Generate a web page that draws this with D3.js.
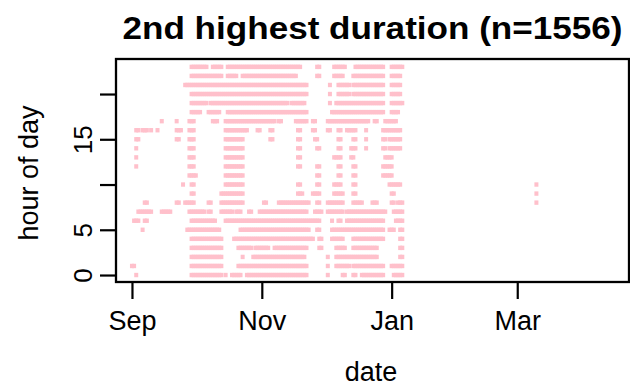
<!DOCTYPE html>
<html>
<head>
<meta charset="utf-8">
<script src="https://cdn.jsdelivr.net/npm/d3@7"></script>
<style>
  html, body { margin: 0; padding: 0; background: #fff; }
  svg { display: block; font-family: "Liberation Sans", Arial, Helvetica, sans-serif; }
</style>
</head>
<body>
<svg id="chart" width="630" height="389"></svg>
<script>
// ---- data -------------------------------------------------------------
const titleText = "2nd highest duration (n=1556)";
const xLabel = "date";
const yLabel = "hour of day";
const seasonStart = "2006-09-01";
const dateDomain = ["2006-08-24T12:00", "2007-04-22T12:00"];
const monthTicks = ["2006-09-01", "2006-11-01", "2007-01-01", "2007-03-01"];
const hourTicks = [0, 5, 10, 15, 20];
const hourTickLabels = ["0", "5", "", "15", ""];

// Days with a recorded event for each hour, as [first, last] runs of
// day numbers counted from seasonStart.
const h00 = [[2,2],[28,42],[44,44],[47,51],[54,82],[92,92],[99,100],[104,105],[108,118],[123,127]];
const h01 = [[0,1],[28,42],[50,82],[92,92],[96,102],[104,118],[122,127]];
const h02 = [[28,42],[52,52],[57,81],[92,92],[96,115],[126,127]];
const h03 = [[28,42],[50,56],[58,64],[67,82],[88,89],[96,100],[104,115],[126,127]];
const h04 = [[28,42],[48,85],[88,89],[94,99],[104,118],[126,127]];
const h05 = [[5,5],[26,41],[51,83],[87,88],[94,118],[121,123],[126,127]];
const h06 = [[1,3],[6,7],[28,39],[44,88],[94,94],[97,98],[101,118],[124,127]];
const h07 = [[3,9],[14,18],[27,34],[36,37],[42,47],[49,51],[55,56],[60,82],[86,89],[92,99],[101,119],[123,127]];
const h08 = [[6,7],[21,22],[25,29],[36,37],[42,52],[62,63],[69,83],[87,88],[92,99],[104,108],[113,115],[122,123],[125,127],[190,190]];
const h09 = [[28,29],[42,52],[78,80],[85,88],[95,99],[104,105],[122,123],[190,190]];
const h10 = [[24,24],[28,29],[44,52],[78,79],[87,88],[95,98],[104,105],[121,126],[190,190]];
const h11 = [[27,30],[44,52],[87,88],[97,98],[104,105],[118,122]];
const h12 = [[2,2],[27,29],[44,52],[78,79],[87,88],[97,98],[104,105],[118,122]];
const h13 = [[2,2],[27,29],[44,52],[78,79],[95,98],[103,104],[119,122]];
const h14 = [[2,2],[27,29],[44,52],[78,79],[87,88],[97,98],[103,105],[110,110],[118,119],[121,126]];
const h15 = [[2,3],[21,22],[27,29],[44,52],[65,66],[78,79],[86,87],[97,98],[104,105],[110,110],[118,119],[121,126]];
const h16 = [[2,3],[5,7],[9,9],[12,12],[21,23],[27,29],[44,54],[59,60],[65,66],[78,79],[85,86],[92,93],[97,98],[101,105],[110,110],[118,126]];
const h17 = [[14,14],[21,21],[27,29],[38,40],[44,67],[69,70],[77,82],[85,86],[92,111],[114,115],[119,124]];
const h18 = [[28,32],[36,41],[45,82],[94,118],[122,125]];
const h19 = [[28,35],[37,73],[75,81],[93,93],[96,118],[122,127]];
const h20 = [[28,82],[93,93],[97,102],[104,118],[122,126]];
const h21 = [[25,82],[93,93],[97,102],[104,118],[122,126]];
const h22 = [[28,42],[45,49],[52,77],[87,88],[95,99],[104,118],[122,126]];
const h23 = [[28,35],[38,42],[45,79],[87,88],[95,100],[105,118],[122,127]];
const runsByHour = [h00,h01,h02,h03,h04,h05,h06,h07,h08,h09,h10,h11,
                    h12,h13,h14,h15,h16,h17,h18,h19,h20,h21,h22,h23];

// ---- expand runs into one record per (day, hour) -------------------------
const start = d3.timeParse("%Y-%m-%d")(seasonStart);
const points = [];
runsByHour.forEach((runs, hour) => {
  runs.forEach(([a, b]) => {
    for (let d = a; d <= b; d++) {
      points.push({ date: d3.timeDay.offset(start, d), hour });
    }
  });
});

// ---- layout -----------------------------------------------------------
const plot = { left: 116, right: 629, top: 59, bottom: 282 };
const svg = d3.select("#chart");
const parseDT = d3.timeParse("%Y-%m-%dT%H:%M");
const parseD = d3.timeParse("%Y-%m-%d");

const x = d3.scaleTime()
  .domain(dateDomain.map(parseDT))
  .range([plot.left, plot.right]);
const y = d3.scaleLinear()
  .domain([-0.77, 23.87])
  .range([plot.bottom, plot.top]);

// points: small filled squares, one per day/hour
const w = 4, h = 4.4;
svg.append("g")
  .selectAll("rect")
  .data(points)
  .join("rect")
  .attr("x", d => x(d.date) - w / 2)
  .attr("y", d => y(d.hour) - h / 2)
  .attr("width", w)
  .attr("height", h)
  .attr("fill", "#ffc0cb");

// plot frame
svg.append("rect")
  .attr("x", plot.left)
  .attr("y", plot.top)
  .attr("width", plot.right - plot.left)
  .attr("height", plot.bottom - plot.top)
  .attr("fill", "none")
  .attr("stroke", "#000")
  .attr("stroke-width", 2.3);

// x axis
const fmtMonth = d3.timeFormat("%b");
const xAxis = svg.append("g")
  .attr("transform", `translate(0,${plot.bottom})`)
  .call(d3.axisBottom(x)
    .tickValues(monthTicks.map(parseD))
    .tickFormat(fmtMonth)
    .tickSize(17)
    .tickSizeOuter(0));
xAxis.select(".domain").remove();
xAxis.selectAll(".tick line").attr("stroke", "#000").attr("stroke-width", 2.2);
xAxis.selectAll(".tick text")
  .attr("y", 48).attr("dy", 0)
  .attr("fill", "#000")
  .style("font-size", "27px")
  .style("font-family", "'Liberation Sans', Arial, sans-serif");

// y axis
const yAxis = svg.append("g")
  .attr("transform", `translate(${plot.left},0)`)
  .call(d3.axisLeft(y)
    .tickValues(hourTicks)
    .tickFormat((d, i) => hourTickLabels[i])
    .tickSize(16)
    .tickSizeOuter(0));
yAxis.select(".domain").remove();
yAxis.selectAll(".tick line").attr("stroke", "#000").attr("stroke-width", 2.2);
yAxis.selectAll(".tick text")
  .attr("x", 0).attr("y", 0).attr("dy", 0)
  .attr("transform", "translate(-24,0) rotate(-90)")
  .attr("text-anchor", "middle")
  .attr("fill", "#000")
  .style("font-size", "26px")
  .style("font-family", "'Liberation Sans', Arial, sans-serif");

// title
svg.append("text")
  .attr("x", (plot.left + plot.right) / 2)
  .attr("y", 38.5)
  .attr("text-anchor", "middle")
  .attr("textLength", 500)
  .attr("lengthAdjust", "spacingAndGlyphs")
  .style("font-size", "32px")
  .style("font-weight", "bold")
  .text(titleText);

// axis titles
svg.append("text")
  .attr("x", 371)
  .attr("y", 381)
  .attr("text-anchor", "middle")
  .style("font-size", "27px")
  .text(xLabel);

svg.append("text")
  .attr("transform", "translate(38,173) rotate(-90)")
  .attr("text-anchor", "middle")
  .style("font-size", "27px")
  .text(yLabel);
</script>
</body>
</html>
